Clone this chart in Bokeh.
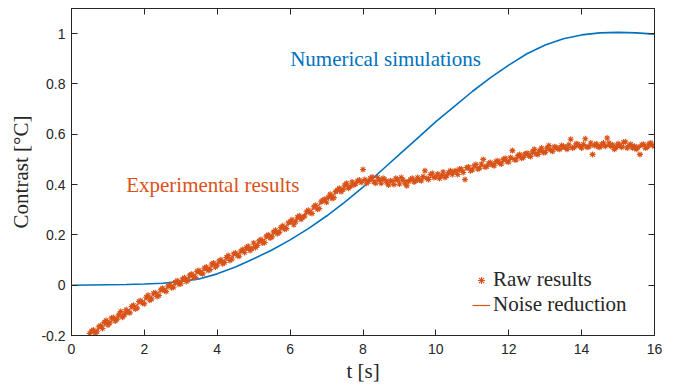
from bokeh.plotting import figure
from bokeh.models import Range1d, LinearAxis, Label, Legend, LegendItem, FixedTicker
from bokeh.embed import file_html
from bokeh.resources import INLINE

# ---- data ----
sim_t = [0, 0.5, 1, 1.5, 2, 2.5, 3, 3.5, 4, 4.5, 5, 5.5, 6, 6.5, 7, 7.5, 8,
         8.5, 9, 9.5, 10, 10.5, 11, 11.5, 12, 12.5, 13, 13.5, 14, 14.5, 15, 15.5, 16]
sim_v = [0.000, 0.001, 0.002, 0.003, 0.005, 0.008, 0.015, 0.025, 0.045, 0.072,
         0.105, 0.140, 0.180, 0.225, 0.275, 0.330, 0.390, 0.455, 0.520, 0.585,
         0.650, 0.710, 0.770, 0.825, 0.875, 0.920, 0.955, 0.980, 0.995, 1.003,
         1.005, 1.003, 0.998]

# raw samples at t = 0.50, 0.60, ..., 16.00
raw_t_a = [round(0.5 + 0.1 * i, 2) for i in range(156)]
raw_v_a = [
    -0.192, -0.178, -0.185, -0.160, -0.148, -0.158, -0.130, -0.142, -0.118, -0.127,
    -0.098, -0.110, -0.080, -0.091, -0.062, -0.074, -0.040, -0.055, -0.030, -0.041,
    -0.012, -0.025, 0.002, -0.008, 0.018, 0.006, 0.030, 0.020, 0.044, 0.031,
    0.058, 0.045, 0.072, 0.062, 0.088, 0.080, 0.101, 0.090, 0.118, 0.104,
    0.128, 0.115, 0.142, 0.150, 0.138, 0.168, 0.158, 0.182, 0.170, 0.200,
    0.192, 0.218, 0.210, 0.236, 0.225, 0.252, 0.240, 0.270, 0.262, 0.275,
    0.298, 0.285, 0.318, 0.305, 0.338, 0.330, 0.362, 0.348, 0.378, 0.372,
    0.398, 0.385, 0.410, 0.402, 0.418, 0.460, 0.405, 0.425, 0.410, 0.428,
    0.405, 0.420, 0.398, 0.412, 0.425, 0.402, 0.418, 0.395, 0.420, 0.410,
    0.428, 0.415, 0.455, 0.420, 0.445, 0.430, 0.424, 0.450, 0.435, 0.455,
    0.452, 0.440, 0.462, 0.420, 0.470, 0.458, 0.480, 0.465, 0.500, 0.472,
    0.488, 0.475, 0.495, 0.482, 0.505, 0.490, 0.535, 0.498, 0.520, 0.508,
    0.525, 0.512, 0.540, 0.520, 0.545, 0.528, 0.555, 0.532, 0.548, 0.540,
    0.552, 0.540, 0.580, 0.548, 0.560, 0.545, 0.582, 0.550, 0.520, 0.562,
    0.548, 0.565, 0.585, 0.552, 0.540, 0.562, 0.548, 0.570, 0.555, 0.545,
    0.540, 0.520, 0.560, 0.548, 0.565, 0.552,
]
# raw samples at t = 0.55, 0.65, ..., 15.95
raw_t_b = [round(0.55 + 0.1 * i, 2) for i in range(155)]
raw_v_b = [
    -0.182, -0.190, -0.165, -0.172, -0.140, -0.150, -0.128, -0.135, -0.105, -0.118,
    -0.108, -0.085, -0.095, -0.065, -0.072, -0.048, -0.060, -0.032, -0.045, -0.018,
    -0.022, -0.003, -0.010, 0.012, 0.004, 0.025, 0.015, 0.040, 0.032, 0.055,
    0.048, 0.068, 0.058, 0.084, 0.072, 0.096, 0.085, 0.110, 0.098, 0.125,
    0.118, 0.136, 0.130, 0.155, 0.145, 0.150, 0.176, 0.168, 0.195, 0.188,
    0.212, 0.205, 0.230, 0.222, 0.248, 0.260, 0.252, 0.276, 0.270, 0.292,
    0.288, 0.312, 0.302, 0.332, 0.342, 0.350, 0.345, 0.372, 0.385, 0.380,
    0.405, 0.392, 0.398, 0.415, 0.408, 0.420, 0.412, 0.430, 0.405, 0.418,
    0.425, 0.408, 0.415, 0.400, 0.418, 0.428, 0.405, 0.412, 0.425, 0.415,
    0.418, 0.432, 0.425, 0.440, 0.428, 0.442, 0.436, 0.428, 0.448, 0.440,
    0.455, 0.462, 0.448, 0.468, 0.455, 0.475, 0.462, 0.482, 0.470, 0.485,
    0.478, 0.492, 0.485, 0.500, 0.492, 0.508, 0.500, 0.515, 0.505, 0.522,
    0.515, 0.530, 0.522, 0.535, 0.528, 0.545, 0.538, 0.550, 0.542, 0.555,
    0.548, 0.558, 0.545, 0.562, 0.552, 0.560, 0.548, 0.565, 0.555, 0.550,
    0.560, 0.552, 0.565, 0.558, 0.548, 0.555, 0.568, 0.545, 0.560, 0.552,
    0.548, 0.558, 0.545, 0.562, 0.555,
]
raw_t = raw_t_a + raw_t_b
raw_v = raw_v_a + raw_v_b

smooth_t = [0.5, 1, 1.5, 2, 2.5, 3, 3.5, 4, 4.5, 5, 5.5, 6, 6.5, 7, 7.5, 8, 8.5,
            9, 9.5, 10, 10.5, 11, 11.5, 12, 12.5, 13, 13.5, 14, 14.5, 15, 15.5, 16]
smooth_v = [-0.195, -0.150, -0.105, -0.060, -0.020, 0.015, 0.050, 0.085, 0.120,
            0.155, 0.200, 0.245, 0.290, 0.340, 0.390, 0.415, 0.418, 0.415, 0.420,
            0.432, 0.447, 0.465, 0.480, 0.497, 0.518, 0.535, 0.545, 0.553, 0.557,
            0.553, 0.552, 0.553]

x_ticks = [0, 2, 4, 6, 8, 10, 12, 14, 16]
y_ticks = [-0.2, 0, 0.2, 0.4, 0.6, 0.8, 1.0]
y_tick_labels = {-0.2: "-0.2", 0: "0", 0.2: "0.2", 0.4: "0.4", 0.6: "0.6", 0.8: "0.8", 1.0: "1"}

BLUE = "#0072BD"
ORANGE = "#D95319"
AX = "#262626"
SERIF = "Liberation Serif"
SANS = "Liberation Sans"
FS = "21px"

p = figure(width=675, height=386, output_backend="svg", toolbar_location=None,
           x_range=Range1d(0, 16), y_range=Range1d(-0.2, 1.1),
           min_border_left=71, min_border_right=21, min_border_top=8, min_border_bottom=51)
p.xgrid.visible = False
p.ygrid.visible = False
p.outline_line_color = AX
p.background_fill_color = "white"

def style_axis(ax, labels=True):
    ax.axis_line_color = AX
    ax.major_tick_line_color = AX
    ax.minor_tick_line_color = None
    ax.major_tick_in = 6
    ax.major_tick_out = 0
    ax.major_label_text_font = SANS
    ax.major_label_text_font_size = "14px" if labels else "0px"
    ax.major_label_text_color = AX

style_axis(p.xaxis[0])
style_axis(p.yaxis[0])
p.xaxis[0].ticker = FixedTicker(ticks=x_ticks)
p.yaxis[0].ticker = FixedTicker(ticks=y_ticks)
p.yaxis[0].major_label_overrides = y_tick_labels
p.xaxis[0].major_label_standoff = 8
p.yaxis[0].major_label_standoff = 6

p.xaxis[0].axis_label = "t [s]"
p.xaxis[0].axis_label_text_font = SERIF
p.xaxis[0].axis_label_text_font_style = "normal"
p.xaxis[0].axis_label_text_font_size = FS
p.xaxis[0].axis_label_text_color = AX
p.xaxis[0].axis_label_standoff = 2

p.yaxis[0].axis_label = "Contrast [°C]"
p.yaxis[0].axis_label_text_font = SERIF
p.yaxis[0].axis_label_text_font_style = "normal"
p.yaxis[0].axis_label_text_font_size = FS
p.yaxis[0].axis_label_text_color = AX
p.yaxis[0].axis_label_standoff = 5

top = LinearAxis(ticker=FixedTicker(ticks=x_ticks),
                 major_label_overrides={t: "" for t in x_ticks})
right = LinearAxis(ticker=FixedTicker(ticks=y_ticks),
                   major_label_overrides={t: "" for t in y_ticks})
style_axis(top, labels=False)
style_axis(right, labels=False)
top.major_label_standoff = 0
right.major_label_standoff = 0
p.add_layout(top, "above")
p.add_layout(right, "right")

# curves
p.line(sim_t, sim_v, line_color=BLUE, line_width=1.6)
r_smooth = p.line(smooth_t, smooth_v, line_color=ORANGE, line_width=1.2)
r_raw = p.scatter(raw_t, raw_v, marker="asterisk", size=6, line_color=ORANGE, line_width=1.1)

legend = Legend(items=[LegendItem(label="Raw results", renderers=[r_raw]),
                       LegendItem(label="Noise reduction", renderers=[r_smooth])],
                location=(401, 18), padding=0, spacing=0, glyph_width=18,
                label_standoff=3, margin=0,
                background_fill_alpha=0, border_line_alpha=0,
                label_text_font=SERIF, label_text_font_size=FS,
                label_text_color=AX)
p.add_layout(legend, "center")

p.add_layout(Label(x=6.0, y=0.90, text="Numerical simulations", text_font=SERIF,
                   text_font_size=FS, text_color=BLUE, text_baseline="middle"))
p.add_layout(Label(x=1.5, y=0.40, text="Experimental results", text_font=SERIF,
                   text_font_size=FS, text_color=ORANGE, text_baseline="middle"))

open("out.html", "w").write(file_html(p, INLINE))
